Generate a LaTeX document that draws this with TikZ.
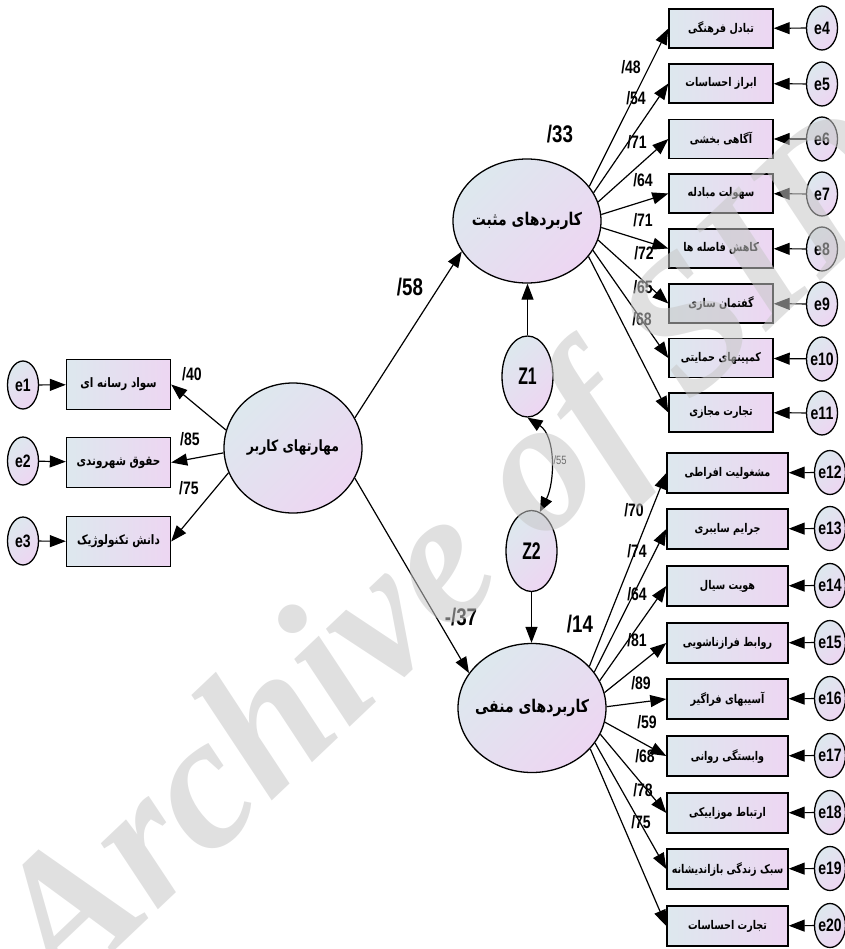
\documentclass[tikz,border=0pt]{standalone}
\usepackage{fontspec}
\usetikzlibrary{arrows.meta,shapes.geometric}
\TeXXeTstate=1
\newfontfamily\fa[Script=Arabic,FakeStretch=0.8]{DejaVu Sans}
\newfontfamily\lab[FakeStretch=0.78]{Liberation Sans}
\newfontfamily\labn[FakeStretch=0.66]{Liberation Sans}
\newfontfamily\wm{Liberation Serif}
\definecolor{gA}{HTML}{DDE8EE}
\definecolor{gB}{HTML}{EDD6F2}
\newcommand{\fat}[1]{{\fa\bfseries\beginR #1\endR}}
\tikzset{
  obs/.style={draw=black,line width=1.4pt,left color=gA,right color=gB,minimum width=104pt,minimum height=39pt,inner sep=0pt,font=\fontsize{12}{13}\selectfont},
  obsl/.style={obs,minimum height=50pt,font=\fontsize{13}{14}\selectfont},
  obsw/.style={obs,minimum width=121pt,minimum height=40pt},
  err/.style={draw=black,line width=1.3pt,ellipse,top color=gA,bottom color=gB,shading angle=45,minimum width=31pt,minimum height=44pt,inner sep=-6pt,font=\lab\bfseries\fontsize{18}{19}\selectfont},
  errl/.style={err,minimum height=48pt},
  lat/.style={draw=black,line width=1.3pt,ellipse,top color=gA,bottom color=gB,shading angle=45,inner sep=-20pt,font=\fontsize{17.5}{18}\selectfont},
  zed/.style={lat,inner sep=0pt,minimum width=51pt,minimum height=81pt,font=\labn\bfseries\fontsize{24}{25}\selectfont},
  arr/.style={line width=1.2pt,-{Triangle[length=16pt,width=12pt]}},
  lbl/.style={inner sep=0pt,font=\lab\bfseries\fontsize{18}{19}\selectfont},
  big/.style={inner sep=0pt,font=\lab\bfseries\fontsize{24}{25}\selectfont},
}
\begin{document}
\begin{tikzpicture}[x=1pt,y=-1pt]
\useasboundingbox (0,0) rectangle (844,949);
% latent
\node[lat,minimum width=138pt,minimum height=130pt,font=\fontsize{15.5}{16}\selectfont] (main) at (293,448) {\fat{مهارتهای کاربر}};
\node[lat,minimum width=148pt,minimum height=124pt] (up) at (527,221) {\fat{کاربردهای مثبت}};
\node[lat,minimum width=148pt,minimum height=129pt] (dn) at (532,708) {\fat{کاربردهای منفی}};
\node[zed] (z1) at (527.5,376.5) {Z1};
\node[zed] (z2) at (531.5,551) {Z2};
% left observed
\node[obsl] (b1) at (118.5,384.5) {\fat{سواد رسانه ای}};
\node[obsl] (b2) at (118.5,462.5) {\fat{حقوق شهروندی}};
\node[obsl] (b3) at (118.5,541.5) {\fat{دانش تکنولوژیک}};
\node[errl] (e1) at (23,385) {e1};
\node[errl] (e2) at (23,461) {e2};
\node[errl] (e3) at (23,541) {e3};
% upper observed
\node[obs] (b4) at (721,28.5) {\fat{تبادل فرهنگی}};
\node[obs] (b5) at (721,83.5) {\fat{ابراز احساسات}};
\node[obs] (b6) at (721,139) {\fat{آگاهی بخشی}};
\node[obs] (b7) at (721,193.5) {\fat{سهولت مبادله}};
\node[obs] (b8) at (721,248.5) {\fat{کاهش فاصله ها}};
\node[obs] (b9) at (721,303.5) {\fat{گفتمان سازی}};
\node[obs] (b10) at (721,358) {\fat{کمپینهای حمایتی}};
\node[obs] (b11) at (721,412.5) {\fat{تجارت مجازی}};
\node[err] (e4) at (822,28) {e4};
\node[err] (e5) at (822,84) {e5};
\node[err] (e6) at (822,139) {e6};
\node[err] (e7) at (822,194) {e7};
\node[err] (e8) at (822,249) {e8};
\node[err] (e9) at (822,304) {e9};
\node[err] (e10) at (822,359) {e10};
\node[err] (e11) at (822,413) {e11};
% lower observed
\node[obsw] (b12) at (727.5,473) {\fat{مشغولیت افراطی}};
\node[obsw] (b13) at (727.5,529) {\fat{جرایم سایبری}};
\node[obsw] (b14) at (727.5,586) {\fat{هویت سیال}};
\node[obsw] (b15) at (727.5,643) {\fat{روابط فرازناشویی}};
\node[obsw] (b16) at (727.5,699) {\fat{آسیبهای فراگیر}};
\node[obsw] (b17) at (727.5,756) {\fat{وابستگی روانی}};
\node[obsw] (b18) at (727.5,813) {\fat{ارتباط موزاییکی}};
\node[obsw] (b19) at (727.5,869) {\fat{سبک زندگی بازاندیشانه}};
\node[obsw] (b20) at (727.5,926) {\fat{تجارت احساسات}};
\node[err] (e12) at (830,472.5) {e12};
\node[err] (e13) at (830,528.5) {e13};
\node[err] (e14) at (830,585.5) {e14};
\node[err] (e15) at (830,642.5) {e15};
\node[err] (e16) at (830,698.5) {e16};
\node[err] (e17) at (830,755.5) {e17};
\node[err] (e18) at (830,812.5) {e18};
\node[err] (e19) at (830,868.5) {e19};
\node[err] (e20) at (830,925.5) {e20};
% connectors
\draw[arr] (main.165) -- (b1.east);
\draw[arr] (main.184) -- (b2.east);
\draw[arr] (main.201) -- (b3.east);
\draw[arr] (e1) -- (b1);
\draw[arr] (e2) -- (b2);
\draw[arr] (e3) -- (b3);
\draw[arr] (main.26) -- (up.205.5);
\draw[arr] (main.-26) -- (dn.151);
\draw[arr] (z1.north) -- (z1.north |- up.south);
\draw[arr] (z2.south) -- (z2.south |- dn.north);
\draw[line width=1.2pt,{Triangle[length=15pt,width=12pt]}-{Triangle[length=15pt,width=12pt]}] (z1.south) .. controls (556,436) and (555,482) .. (z2.78);
\foreach \n/\a in {4/29,5/23,6/15,7/5.4,8/-5,9/-15,10/-24,11/-30}{\draw[arr] (up.\a) -- (b\n.west);}
\foreach \n/\a in {12/36.5,13/30,14/22,15/12,16/1.5,17/-11,18/-21,19/-29,20/-35}{\draw[arr] (dn.\a) -- (b\n.west);}
\foreach \n in {4,...,20}{\draw[arr] (e\n) -- (b\n);}
% labels
\node[lbl] (l40) at (192,374) {/40};
\node[lbl] (l85) at (190,439) {/85};
\node[lbl] (l75a) at (189,488) {/75};
\node[big] (l58) at (410,287) {/58};
\node[big] (l37) at (461,617) {-/37};
\node[big] (l33) at (560,134) {/33};
\node[big] (l14) at (580,624) {/14};
\node[inner sep=0pt,font=\lab\fontsize{12}{13}\selectfont] (l55) at (560,460) {/55};
\node[lbl] (l48) at (631,67) {/48};
\node[lbl] (l54) at (636,98) {/54};
\node[lbl] (l71a) at (637,142) {/71};
\node[lbl] (l64a) at (643,180) {/64};
\node[lbl] (l71b) at (643,220) {/71};
\node[lbl] (l72) at (644,253) {/72};
\node[lbl] (l65) at (643,287) {/65};
\node[lbl] (l68a) at (642,319) {/68};
\node[lbl] (l70) at (634,510) {/70};
\node[lbl] (l74) at (637,551) {/74};
\node[lbl] (l64b) at (637,594) {/64};
\node[lbl] (l81) at (637,640) {/81};
\node[lbl] (l89) at (641,683) {/89};
\node[lbl] (l59) at (647,722) {/59};
\node[lbl] (l68b) at (645,756) {/68};
\node[lbl] (l78) at (643,790) {/78};
\node[lbl] (l75b) at (641,822) {/75};
% watermark
\begin{scope}
\clip (0,0) rectangle (844,949);
\node[rotate=43.5,anchor=base,text=black!22,text opacity=0.55,inner sep=0pt,font=\wm\bfseries\itshape\fontsize{190}{190}\selectfont] (wm) at (492,593) {Archive of SID};
\end{scope}
\end{tikzpicture}
\end{document}
